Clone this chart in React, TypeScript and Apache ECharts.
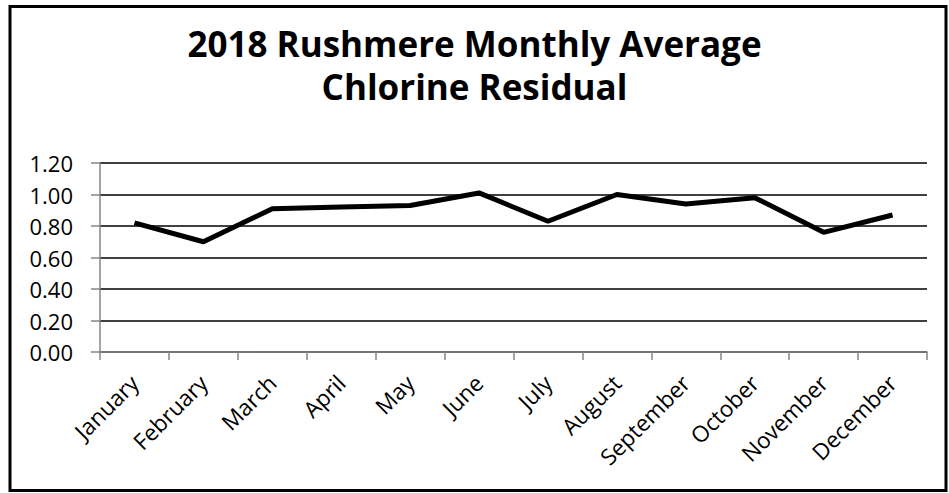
import React, { useEffect, useRef } from "react";
import * as echarts from "echarts";

const months = [
  "January", "February", "March", "April", "May", "June",
  "July", "August", "September", "October", "November", "December",
];
const chlorine = [0.82, 0.70, 0.91, 0.92, 0.93, 1.01, 0.83, 1.00, 0.94, 0.98, 0.76, 0.87];
const titleLines = ["2018 Rushmere Monthly Average", "Chlorine Residual"];
const yMin = 0;
const yMax = 1.2;
const yStep = 0.2;

const FONT = "'Open Sans', 'Liberation Sans', sans-serif";

export default function App() {
  const ref = useRef<HTMLDivElement>(null);
  useEffect(() => {
    if (!ref.current) return;
    const chart = echarts.init(ref.current, undefined, { renderer: "svg" });
    chart.setOption({
      animation: false,
      backgroundColor: "#ffffff",
      title: {
        text: titleLines.join("\n"),
        left: "center",
        top: 17,
        textStyle: {
          fontFamily: FONT,
          fontSize: 35,
          fontWeight: "bold",
          color: "#000000",
          lineHeight: 43,
        },
      },
      graphic: [
        {
          type: "rect",
          shape: { x: 10, y: 6.5, width: 936, height: 484 },
          style: { fill: "none", stroke: "#000000", lineWidth: 3 },
          silent: true,
          z: 10,
        },
      ],
      grid: { left: 100, right: 22, top: 163, bottom: 141 },
      xAxis: {
        type: "category",
        data: months,
        boundaryGap: true,
        z: 1,
        axisLine: { show: true, lineStyle: { color: "#868686", width: 1.5 } },
        axisTick: { show: true, length: 8, lineStyle: { color: "#868686", width: 1.5 } },
        axisLabel: {
          rotate: 45,
          interval: 0,
          margin: 27,
          fontFamily: FONT,
          fontSize: 22.5,
          color: "#000000",
        },
        splitLine: { show: false },
      },
      yAxis: {
        type: "value",
        min: yMin,
        max: yMax,
        interval: yStep,
        axisLine: { show: true, lineStyle: { color: "#868686", width: 1.5 } },
        axisTick: { show: true, length: 9, lineStyle: { color: "#868686", width: 1.5 } },
        axisLabel: {
          margin: 27,
          fontFamily: FONT,
          fontSize: 22,
          color: "#000000",
          formatter: (v: number) => v.toFixed(2),
        },
        splitLine: { show: true, lineStyle: { color: "#000000", width: 1.5 } },
      },
      series: [
        {
          type: "line",
          data: chlorine,
          showSymbol: false,
          symbol: "none",
          lineStyle: { color: "#000000", width: 5 },
          z: 3,
        },
      ],
    });
    return () => chart.dispose();
  }, []);
  return (
    <div
      ref={ref}
      style={{ position: "fixed", left: 0, top: 0, width: 949, height: 493 }}
    />
  );
}
